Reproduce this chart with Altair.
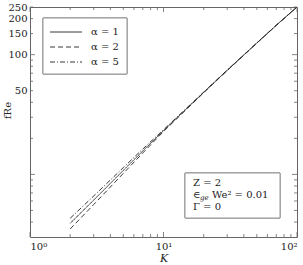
import altair as alt
import pandas as pd

# ---- data ----
K = [2, 3, 5, 7, 10, 20, 30, 50, 70, 100]
fre_a1 = [3.9, 6.1, 10.8, 15.7, 23.2, 48.4, 74.0, 125.0, 176.0, 250.0]
fre_a2 = [3.5, 5.6, 10.2, 15.1, 22.8, 48.1, 73.7, 124.7, 175.7, 249.7]
fre_a5 = [4.3, 6.6, 11.4, 16.3, 23.6, 48.7, 74.3, 125.3, 176.3, 250.3]
series_labels = ["α = 1", "α = 2", "α = 5"]
series_dash = [[1, 0], [5, 3], [5, 2, 1, 2]]

x_tick_major = [1, 10, 100]
x_tick_minor = [2, 3, 4, 5, 6, 7, 8, 9, 20, 30, 40, 50, 60, 70, 80, 90]
y_labels = [50, 100, 150, 200, 250]
y_tick_major = [10, 100]
y_tick_minor = [4, 5, 6, 7, 8, 9, 20, 30, 40, 50, 60, 70, 80, 90, 150, 200, 250]

note_lines = ["Z = 2", "We² = 0.01", "Γ = 0"]

W, H = 267, 230
FONT = "DejaVu Serif"
INK = "#222222"
AX = "#666666"

rows = []
for lab, vals in zip(series_labels, [fre_a1, fre_a2, fre_a5]):
    for k, v in zip(K, vals):
        rows.append({"K": k, "fRe": v, "series": lab})
df = pd.DataFrame(rows)

xs = alt.Scale(type="log", domain=[1, 100])
ys = alt.Scale(type="log", domain=[3, 250])

lines = alt.Chart(df).mark_line(strokeWidth=0.9, color=INK, clip=True).encode(
    x=alt.X("K:Q", scale=xs,
            axis=alt.Axis(values=x_tick_major, ticks=False, domain=False, grid=False,
                          labelExpr="datum.value == 1 ? '10⁰' : datum.value == 10 ? '10¹' : '10²'",
                          labelFont=FONT, labelFontSize=10, labelColor=INK, labelPadding=4,
                          title="K", titleFont=FONT, titleFontStyle="italic",
                          titleFontWeight="normal", titleFontSize=11, titleColor=INK,
                          titlePadding=1)),
    y=alt.Y("fRe:Q", scale=ys,
            axis=alt.Axis(values=y_labels, ticks=False, domain=False, grid=False,
                          labelFont=FONT, labelFontSize=10, labelColor=INK, labelPadding=3,
                          title="fRe", titleFont=FONT, titleFontWeight="normal",
                          titleFontSize=10, titleColor=INK, titleX=-18, titleY=103)),
    strokeDash=alt.StrokeDash("series:N",
                              scale=alt.Scale(domain=series_labels, range=series_dash),
                              legend=None),
    detail="series:N",
)

def xticks(vals, length):
    d = pd.DataFrame({"K": vals})
    b = alt.Chart(d).mark_rule(color=AX, strokeWidth=0.8).encode(
        x=alt.X("K:Q", scale=xs), y=alt.value(H), y2=alt.value(H - length))
    t = alt.Chart(d).mark_rule(color=AX, strokeWidth=0.8).encode(
        x=alt.X("K:Q", scale=xs), y=alt.value(0), y2=alt.value(length))
    return [b, t]

def yticks(vals, length):
    d = pd.DataFrame({"fRe": vals})
    l = alt.Chart(d).mark_rule(color=AX, strokeWidth=0.8).encode(
        y=alt.Y("fRe:Q", scale=ys), x=alt.value(0), x2=alt.value(length))
    r = alt.Chart(d).mark_rule(color=AX, strokeWidth=0.8).encode(
        y=alt.Y("fRe:Q", scale=ys), x=alt.value(W), x2=alt.value(W - length))
    return [l, r]

ticks = xticks(x_tick_major, 5) + xticks(x_tick_minor, 3) + yticks(y_tick_major, 5) + yticks(y_tick_minor, 3)

# ---- legend box (manual) ----
leg_df = pd.DataFrame({"series": series_labels, "row": [0, 1, 2]})
leg_box = alt.Chart(leg_df).mark_rect(fill="white", stroke="#999999", strokeWidth=1).encode(
    x=alt.value(13), x2=alt.value(97), y=alt.value(11), y2=alt.value(67))
leg_parts = [leg_box]
for i, (lab, dash) in enumerate(zip(series_labels, series_dash)):
    yy = 25 + 15 * i
    sub = leg_df[leg_df.series == lab]
    leg_parts.append(alt.Chart(sub).mark_rule(color=INK, strokeWidth=0.9, strokeDash=dash).encode(
        x=alt.value(20), x2=alt.value(52), y=alt.value(yy)))
    leg_parts.append(alt.Chart(sub).mark_text(font=FONT, fontSize=10, color=INK, align="left",
                                              baseline="middle").encode(
        x=alt.value(61), y=alt.value(yy), text="series:N"))

# ---- annotation box ----
note_df = pd.DataFrame({"t": note_lines})
note_box = alt.Chart(note_df).mark_rect(fill="white", stroke="#999999", strokeWidth=1).encode(
    x=alt.value(155), x2=alt.value(250), y=alt.value(166), y2=alt.value(211))
note_parts = [note_box]
note_parts.append(alt.Chart(note_df.iloc[[0]]).mark_text(font=FONT, fontSize=10, color=INK,
                                                         align="left", baseline="middle").encode(
    x=alt.value(163), y=alt.value(176), text=alt.value("Z = 2")))
note_parts.append(alt.Chart(note_df.iloc[[1]]).mark_text(font=FONT, fontSize=10, color=INK,
                                                         align="left", baseline="middle").encode(
    x=alt.value(163), y=alt.value(188), text=alt.value("∈")))
note_parts.append(alt.Chart(note_df.iloc[[1]]).mark_text(font=FONT, fontSize=7, color=INK,
                                                         align="left", baseline="middle",
                                                         fontStyle="italic").encode(
    x=alt.value(170), y=alt.value(191), text=alt.value("ge")))
note_parts.append(alt.Chart(note_df.iloc[[1]]).mark_text(font=FONT, fontSize=10, color=INK,
                                                         align="left", baseline="middle").encode(
    x=alt.value(182), y=alt.value(188), text=alt.value(note_lines[1])))
note_parts.append(alt.Chart(note_df.iloc[[2]]).mark_text(font=FONT, fontSize=10, color=INK,
                                                         align="left", baseline="middle").encode(
    x=alt.value(163), y=alt.value(200), text=alt.value(note_lines[2])))

chart = alt.layer(lines, *ticks, *leg_parts, *note_parts).properties(
    width=W, height=H,
    autosize=alt.AutoSizeParams(type="none"),
    padding={"left": 30, "top": 7, "right": 6, "bottom": 28},
    background="white",
).configure_view(stroke=AX, strokeWidth=1)

chart.save("out.html", embed_options={"renderer": "svg", "actions": False})
